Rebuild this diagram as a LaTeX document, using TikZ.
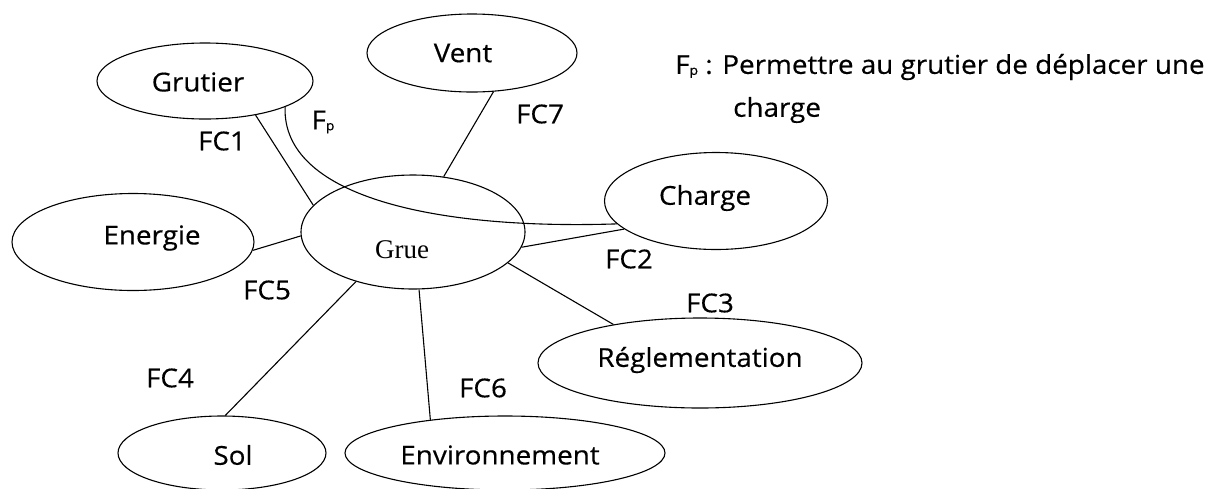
\documentclass[tikz,border=0pt]{standalone}
\usepackage{fontspec}
\setmainfont[FakeStretch=1.07, FakeBold=0.4]{Open Sans}
\newfontfamily\gruefont{Liberation Serif}
\usetikzlibrary{shapes.geometric}
\begin{document}
\begin{tikzpicture}[x=1pt,y=-1pt,
  ell/.style={draw, ellipse, inner sep=0pt, line width=1.1pt},
  lnk/.style={draw, line width=1.1pt},
  lbl/.style={font=\fontsize{26}{30}\selectfont, inner sep=0pt},
  every label/.style={lbl}]
\useasboundingbox (0,0) rectangle (1223,488);
% ellipses
\node[ell, minimum width=216, minimum height=76, label={[xshift=-7pt, yshift=-1pt]center:Grutier}] (grutier) at (205,81) {};
\node[ell, minimum width=210, minimum height=78, label={[xshift=-9pt]center:Vent}] (vent) at (472,53) {};
\node[ell, minimum width=224, minimum height=114, label={[xshift=-11pt, yshift=-18pt, font=\gruefont\fontsize{27}{30}\selectfont]center:Grue}] (grue) at (413,232) {};
\node[ell, minimum width=242, minimum height=97, label={[xshift=19pt, yshift=4pt]center:Energie}] (energie) at (133,242) {};
\node[ell, minimum width=223, minimum height=97, label={[xshift=-11pt, yshift=3pt]center:Charge}] (charge) at (716,201) {};
\node[ell, minimum width=324, minimum height=90, label={[yshift=3pt]center:Réglementation}] (regl) at (700,363) {};
\node[ell, minimum width=208, minimum height=74, label={[xshift=11pt, yshift=-2pt]center:Sol}] (sol) at (222,453) {};
\node[ell, minimum width=320, minimum height=74, label={[xshift=-5pt, yshift=-2pt]center:Environnement}] (env) at (505,453) {};
% connectors
\draw[lnk] (grutier.326) -- (grue.165);
\draw[lnk] (grutier.342) .. controls (282,195) and (430,230) .. (charge.193);
\draw[lnk] (vent.299) -- (grue.61);
\draw[lnk] (energie.356) -- (grue.182);
\draw[lnk] (grue.352) -- (charge.197);
\draw[lnk] (grue.342) -- (regl.156);
\draw[lnk] (grue.276) -- (env.156);
\draw[lnk] (grue.221) -- (sol.85);
% connector labels
\node[lbl] (fc1) at (222,141) {FC1};
\node[lbl] (fp) at (323,122) {F{\fontsize{13}{13}\selectfont\raisebox{-1pt}{p}}};
\node[lbl] (fc7) at (540,114) {FC7};
\node[lbl] (fc2) at (629,259) {FC2};
\node[lbl] (fc3) at (710,303) {FC3};
\node[lbl] (fc5) at (267,290) {FC5};
\node[lbl] (fc4) at (170,378) {FC4};
\node[lbl] (fc6) at (483,388) {FC6};
% legend
\node[lbl, anchor=west] (leg1) at (675,67) {F{\fontsize{13}{13}\selectfont\raisebox{-1pt}{p}} : Permettre au grutier de déplacer une};
\node[lbl, anchor=west] (leg2) at (733,110) {charge};
\end{tikzpicture}
\end{document}
